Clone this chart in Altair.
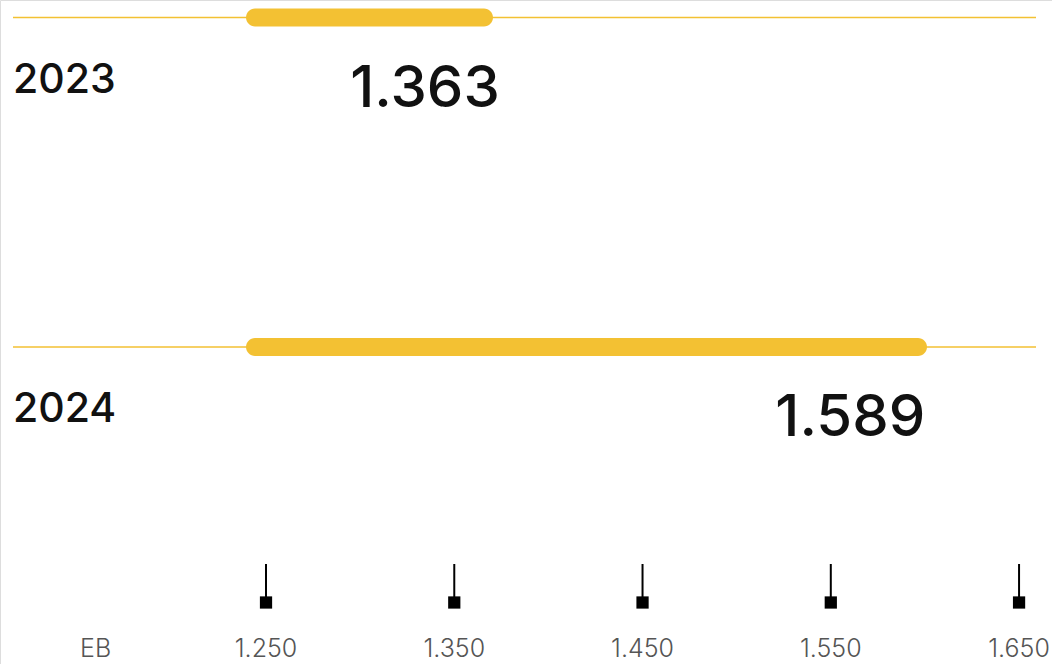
import altair as alt
import pandas as pd

# ---- data ----
years = [2023, 2024]
values = [1.363, 1.589]
value_labels = ["1.363", "1.589"]
bar_start = 1.2344
tick_values = [1.25, 1.35, 1.45, 1.55, 1.65]
tick_labels = ["1.250", "1.350", "1.450", "1.550", "1.650"]
unit_label = "EB"

rows = pd.DataFrame({"year": years, "value": values, "label": value_labels,
                     "year_label": [str(y) for y in years]})
ticks = pd.DataFrame({"v": tick_values, "label": tick_labels})

YELLOW = "#F3C133"
FONT = "Inter"

bar_scale = alt.Scale(domain=[1.1063, 1.6541], range=[0, 1052], nice=False, zero=False, padding=0)
axis_scale = alt.Scale(domain=[1.1087, 1.6675], range=[0, 1052], nice=False, zero=False, padding=0)
y_scale = alt.Scale(domain=[2023, 2024], range=[17.5, 347], nice=False, zero=False, padding=0)

Y = alt.Y("year:Q", scale=y_scale, axis=None)

lines = alt.Chart(rows).mark_rule(color=YELLOW, strokeWidth=1.5).encode(
    x=alt.value(13), x2=alt.value(1036), y=Y
)

bars = alt.Chart(rows).mark_bar(color=YELLOW, height=18, cornerRadius=9).encode(
    x=alt.X("value:Q", scale=bar_scale, axis=None), x2=alt.datum(bar_start), y=Y
)

year_text = alt.Chart(rows).mark_text(
    align="left", baseline="alphabetic", dy=75, font=FONT, fontSize=41, fontWeight=500,
    color="#111111"
).encode(x=alt.value(13), y=Y, text="year_label:N")

value_text = alt.Chart(rows).mark_text(
    align="right", baseline="alphabetic", dx=21, dy=89, font=FONT, fontSize=58,
    fontWeight=500, color="#111111"
).encode(x=alt.X("value:Q", scale=axis_scale, axis=None), y=Y, text="label:N")

tick_rules = alt.Chart(ticks).mark_rule(color="#000000", strokeWidth=2).encode(
    x=alt.X("v:Q", scale=axis_scale, axis=None), y=alt.value(564), y2=alt.value(600)
)

tick_squares = alt.Chart(ticks).mark_square(color="#000000", size=150, opacity=1, filled=True).encode(
    x=alt.X("v:Q", scale=axis_scale, axis=None), y=alt.value(602.5)
)

tick_text = alt.Chart(ticks).mark_text(
    align="center", baseline="alphabetic", font=FONT, fontSize=25, fontWeight=300, color="#555555"
).encode(x=alt.X("v:Q", scale=axis_scale, axis=None), y=alt.value(657), text="label:N")

eb_text = alt.Chart(pd.DataFrame({"t": [unit_label]})).mark_text(
    align="left", baseline="alphabetic", font=FONT, fontSize=25, fontWeight=300, color="#555555"
).encode(x=alt.value(80), y=alt.value(657), text="t:N")

chart = (
    alt.layer(lines, bars, year_text, value_text, tick_rules, tick_squares, tick_text, eb_text)
    .resolve_scale(x="independent")
    .properties(width=1052, height=664, padding=0, autosize=alt.AutoSizeParams(type="none"))
    .configure_view(stroke=None)
    .configure(background="white")
)

chart.save("out.html", embed_options={"renderer": "svg", "actions": False})
